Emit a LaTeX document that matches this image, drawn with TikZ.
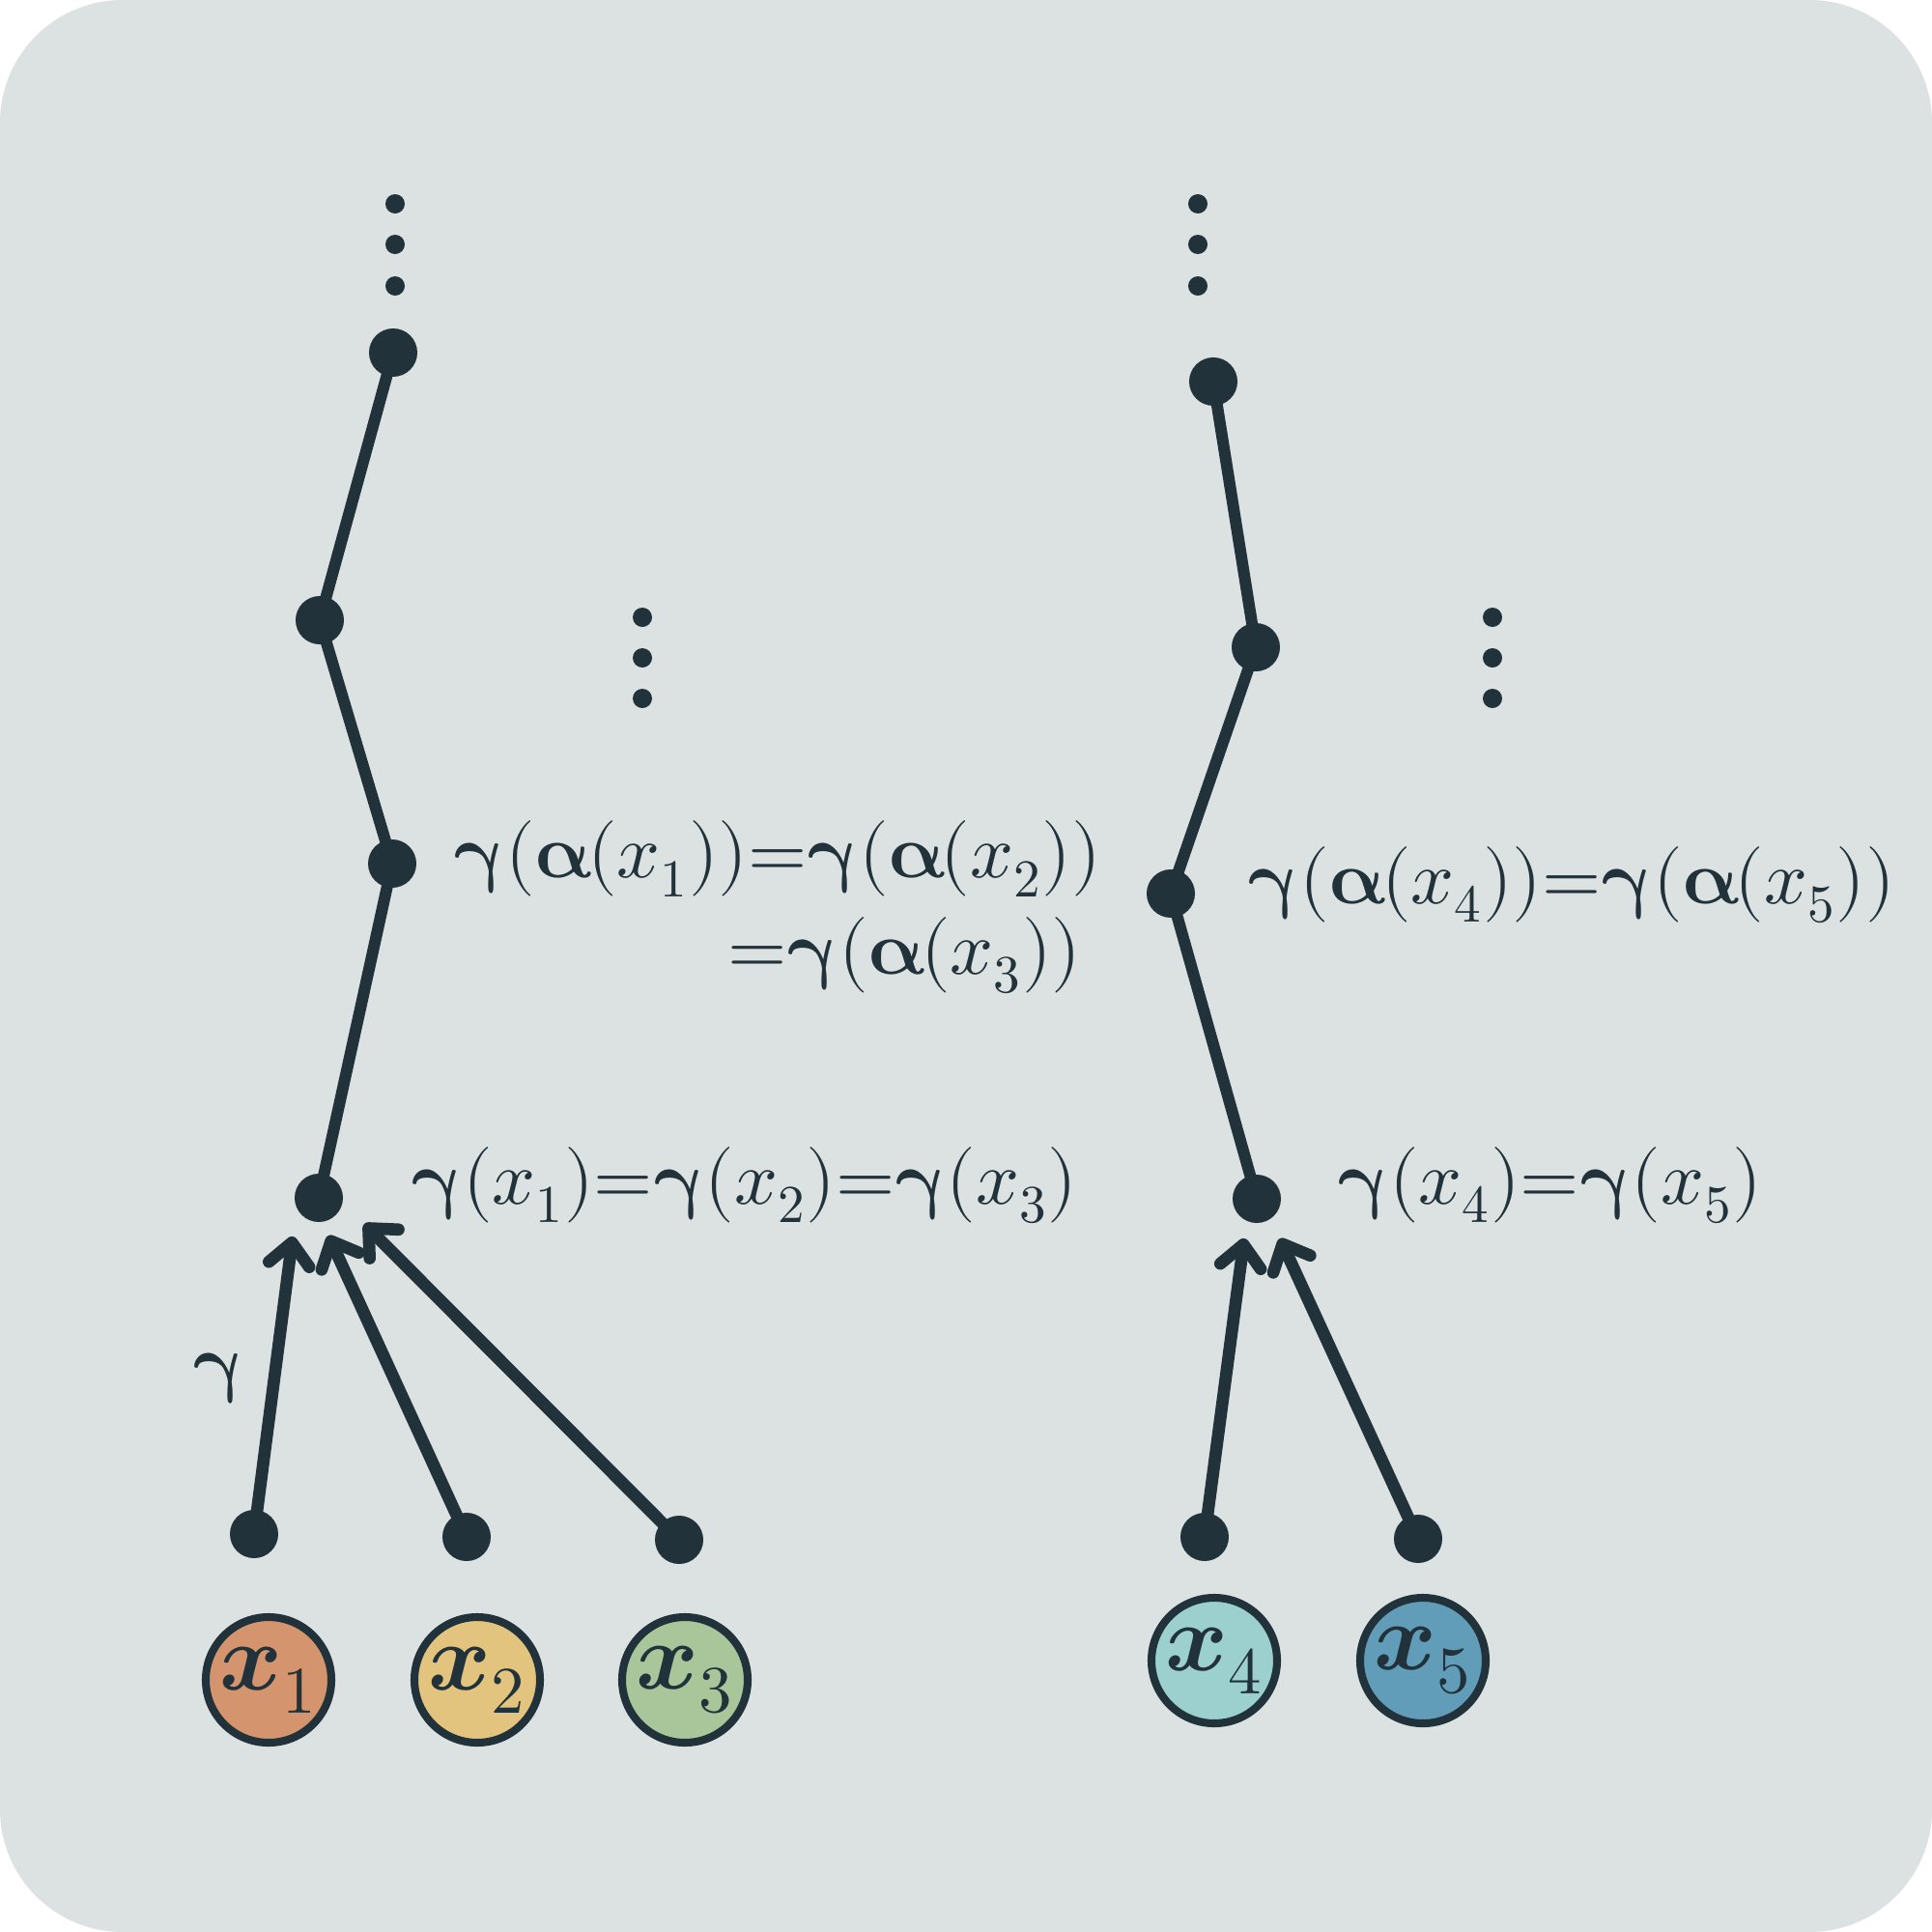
\documentclass[tikz,border=0pt]{standalone}
\usepackage{unicode-math}
\setmathfont{Latin Modern Math}
\usetikzlibrary{arrows.meta}
\definecolor{ink}{HTML}{21323B}
\definecolor{bgc}{HTML}{DCE2E2}
\definecolor{cA}{HTML}{D4956E}
\definecolor{cB}{HTML}{E3C47E}
\definecolor{cC}{HTML}{A9C59A}
\definecolor{cD}{HTML}{9BD0CE}
\definecolor{cE}{HTML}{619DB8}
\newcommand{\gm}{\symbfup{\gamma}}
\newcommand{\al}{\symbfup{\alpha}\mkern-1.5mu}
\tikzset{
  bigdot/.style={circle, fill=ink, inner sep=0pt, minimum size=0.5cm},
  smalldot/.style={circle, fill=ink, inner sep=0pt, minimum size=0.2cm},
  xnode/.style={circle, draw=ink, line width=2.3pt, minimum size=1.3cm, inner sep=0pt, text=ink, font=\fontsize{28}{32}\selectfont},
  chain/.style={draw=ink, line width=3.4pt},
  arr/.style={draw=ink, line width=3.6pt, -{Straight Barb[length=6.5pt,width=12pt,line cap=round,line join=round]}},
  lab/.style={inner sep=0pt, text=ink, font=\fontsize{22.4}{26}\selectfont}
}
\begin{document}
\begin{tikzpicture}[x=1cm,y=1cm]
\useasboundingbox (0,0) rectangle (20,-20);
\fill[white] (0,0) rectangle (20,-20);
\fill[bgc, rounded corners=1.27cm] (0,0) rectangle (20,-20);

% left chain
\node[smalldot] (ld1) at (4.09,-2.11) {};
\node[smalldot] (ld2) at (4.09,-2.53) {};
\node[smalldot] (ld3) at (4.09,-2.96) {};
\node[bigdot] (a1) at (4.07,-3.65) {};
\node[bigdot] (a2) at (3.31,-6.42) {};
\node[bigdot] (a3) at (4.06,-8.94) {};
\node[bigdot] (a4) at (3.30,-12.40) {};
\draw[chain] (a1.center) -- (a2.center) -- (a3.center) -- (a4.center);

\node[smalldot] (m1) at (6.65,-6.39) {};
\node[smalldot] (m2) at (6.65,-6.81) {};
\node[smalldot] (m3) at (6.65,-7.23) {};

\node[bigdot] (l1) at (2.63,-15.88) {};
\node[bigdot] (l2) at (4.83,-15.91) {};
\node[bigdot] (l3) at (7.03,-15.94) {};
\coordinate (t1) at (3.03,-12.80);
\coordinate (t2) at (3.40,-12.79);
\coordinate (t3) at (3.77,-12.67);
\draw[arr] (l1.center) -- (t1);
\draw[arr] (l2.center) -- (t2);
\draw[arr] (l3.center) -- (t3);

\node[xnode, fill=cA] (c1) at (2.78,-17.39) {$\symbfit{x}_{1}$};
\node[xnode, fill=cB] (c2) at (4.94,-17.39) {$\symbfit{x}_{2}$};
\node[xnode, fill=cC] (c3) at (7.09,-17.39) {$\symbfit{x}_{3}$};

\node[lab] (g) at (2.26,-14.27) {$\gm$};
\node[lab, anchor=west] (L1) at (4.69,-8.89) {$\gm(\al(x_{1})){=}\gm(\al(x_{2}))$};
\node[lab, anchor=east] (L2) at (11.20,-9.89) {${=}\gm(\al(x_{3}))$};
\node[lab, anchor=west] (L3) at (4.25,-12.27) {$\gm(x_{1}){=}\gm(x_{2}){=}\gm(x_{3})$};

% right chain
\node[smalldot] (rd1) at (12.40,-2.11) {};
\node[smalldot] (rd2) at (12.40,-2.53) {};
\node[smalldot] (rd3) at (12.40,-2.96) {};
\node[bigdot] (b1) at (12.56,-3.95) {};
\node[bigdot] (b2) at (13.00,-6.70) {};
\node[bigdot] (b3) at (12.12,-9.25) {};
\node[bigdot] (b4) at (13.01,-12.41) {};
\draw[chain] (b1.center) -- (b2.center) -- (b3.center) -- (b4.center);

\node[smalldot] (n1) at (15.45,-6.39) {};
\node[smalldot] (n2) at (15.45,-6.81) {};
\node[smalldot] (n3) at (15.45,-7.23) {};

\node[bigdot] (k1) at (12.47,-15.91) {};
\node[bigdot] (k2) at (14.68,-15.93) {};
\coordinate (t4) at (12.88,-12.82);
\coordinate (t5) at (13.25,-12.82);
\draw[arr] (k1.center) -- (t4);
\draw[arr] (k2.center) -- (t5);

\node[xnode, fill=cD] (c4) at (12.57,-17.19) {$\symbfit{x}_{4}$};
\node[xnode, fill=cE] (c5) at (14.73,-17.19) {$\symbfit{x}_{5}$};

\node[lab, anchor=west] (L4) at (12.91,-9.16) {$\gm(\al(x_{4})){=}\gm(\al(x_{5}))$};
\node[lab, anchor=west] (L5) at (13.84,-12.27) {$\gm(x_{4}){=}\gm(x_{5})$};
\end{tikzpicture}
\end{document}
